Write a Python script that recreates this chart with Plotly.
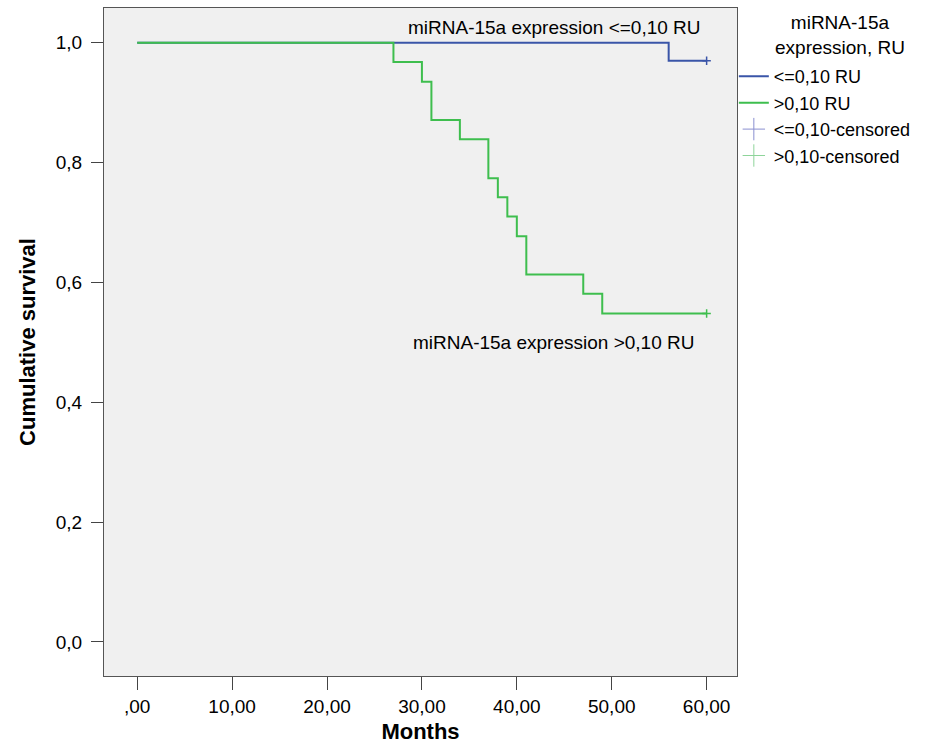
import plotly.graph_objects as go

# Kaplan-Meier step data (months, cumulative survival)
low_times = [0, 56, 60]
low_surv = [1.0, 0.970, 0.970]
low_censor_t = [60]
low_censor_s = [0.970]

high_times = [0, 27, 30, 31, 34, 37, 38, 39, 40, 41, 47, 49, 60]
high_surv = [1.0, 0.968, 0.935, 0.871, 0.839, 0.774, 0.742, 0.710, 0.677, 0.613, 0.581, 0.548, 0.548]
high_censor_t = [60]
high_censor_s = [0.548]

x_ticks = [0, 10, 20, 30, 40, 50, 60]
x_tick_labels = [",00", "10,00", "20,00", "30,00", "40,00", "50,00", "60,00"]
y_ticks = [0.0, 0.2, 0.4, 0.6, 0.8, 1.0]
y_tick_labels = ["0,0", "0,2", "0,4", "0,6", "0,8", "1,0"]

BLUE = "#3A55A8"
GREEN = "#3EBE4E"
BLUE_C = "#8A8FD0"
GREEN_C = "#8ED49A"

fig = go.Figure()
fig.add_trace(go.Scatter(x=low_times, y=low_surv, mode="lines", line=dict(color=BLUE, width=2, shape="hv"),
                         name="<=0,10 RU"))
fig.add_trace(go.Scatter(x=high_times, y=high_surv, mode="lines", line=dict(color=GREEN, width=2, shape="hv"),
                         name=">0,10 RU"))
fig.add_trace(go.Scatter(x=low_censor_t, y=low_censor_s, mode="markers",
                         marker=dict(symbol="cross-thin", size=6, line=dict(color=BLUE, width=1.5)),
                         name="<=0,10-censored", showlegend=False))
fig.add_trace(go.Scatter(x=high_censor_t, y=high_censor_s, mode="markers",
                         marker=dict(symbol="cross-thin", size=6, line=dict(color=GREEN, width=1.5)),
                         name=">0,10-censored", showlegend=False))
# legend-only entries for censored marks (lighter, larger glyph)
fig.add_trace(go.Scatter(x=[None], y=[None], mode="markers",
                         marker=dict(symbol="cross-thin", size=18, line=dict(color=BLUE_C, width=1)),
                         name="<=0,10-censored"))
fig.add_trace(go.Scatter(x=[None], y=[None], mode="markers",
                         marker=dict(symbol="cross-thin", size=18, line=dict(color=GREEN_C, width=1)),
                         name=">0,10-censored"))

fig.add_annotation(x=44.0, y=1.0, yshift=15, text="miRNA-15a expression <=0,10 RU", showarrow=False,
                   font=dict(size=19, color="#000"), xanchor="center", yanchor="middle")
fig.add_annotation(x=43.9, y=0.548, yshift=-29, text="miRNA-15a expression >0,10 RU", showarrow=False,
                   font=dict(size=19, color="#000"), xanchor="center", yanchor="middle")
# legend title (centered lines)
fig.add_annotation(xref="paper", yref="paper", x=1.1627, y=0.960, text="miRNA-15a<br>expression, RU",
                   showarrow=False, align="center", xanchor="center", yanchor="middle",
                   font=dict(size=19, color="#000"))

fig.update_layout(
    width=935, height=744,
    margin=dict(l=104, r=198, t=8, b=68),
    paper_bgcolor="white", plot_bgcolor="#F0F0F0",
    font=dict(family="Liberation Sans, Arial, sans-serif", size=19, color="#000"),
    showlegend=True,
    legend=dict(x=0.995, y=0.925, xanchor="left", yanchor="top", bgcolor="rgba(0,0,0,0)",
                font=dict(size=18), tracegroupgap=0, itemwidth=30),
    xaxis=dict(range=[-3.5, 63.2], tickvals=x_ticks, ticktext=x_tick_labels, ticks="outside", ticklen=13,
               tickcolor="#444", showgrid=False, zeroline=False, showline=True, linecolor="#555", mirror=True,
               linewidth=1, automargin=False,
               title=dict(text="<b>Months</b>", font=dict(size=22), standoff=12),
               tickfont=dict(size=19)),
    yaxis=dict(range=[-0.057, 1.058], tickvals=y_ticks, ticktext=y_tick_labels, ticks="outside", ticklen=12,
               tickcolor="#444", showgrid=False, zeroline=False, showline=True, linecolor="#555", mirror=True,
               linewidth=1, automargin=False, ticklabelstandoff=5,
               title=dict(text="<b>Cumulative survival</b>", font=dict(size=22), standoff=14),
               tickfont=dict(size=19)),
)

fig.write_html("out.html")
